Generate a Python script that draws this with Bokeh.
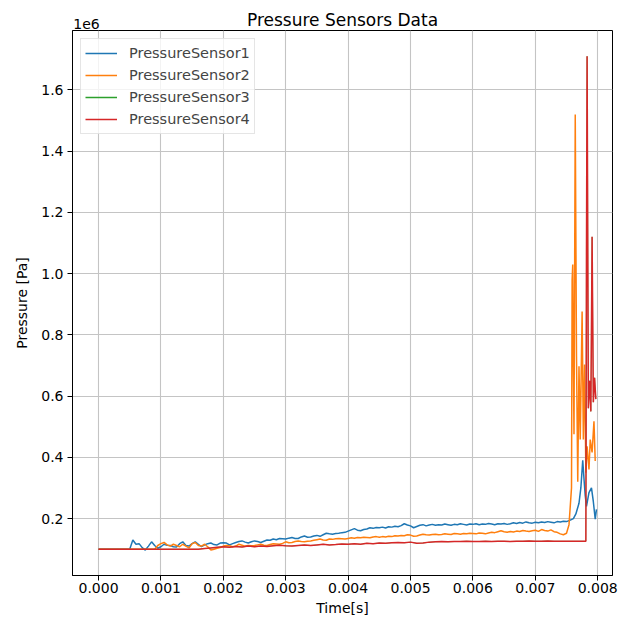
import numpy as np
from bokeh.plotting import figure
from bokeh.models import FixedTicker, Range1d, LinearAxis, Legend, LegendItem
from bokeh.embed import file_html
from bokeh.resources import INLINE

# ---------------- data (pressures in kPa) ----------------
series_names = ["PressureSensor1", "PressureSensor2", "PressureSensor3", "PressureSensor4"]
series_colors = ["#1f77b4", "#ff7f0e", "#2ca02c", "#d62728"]
chart_title = "Pressure Sensors Data"
offset_text = "1e6"

# Sensor 1: baseline, then 50 us samples from 0.5 ms to 7.5 ms, then spike region
s1_base_kpa = [
    100, 130, 116, 118, 105, 97, 110, 124, 112, 103,
    108, 116, 113, 112, 108, 107, 118, 124, 112, 110,
    118, 124, 116, 108, 114, 118, 120, 115, 114, 120,
    121, 120, 114, 118, 122, 125, 127, 123, 120, 124,
    127, 125, 122, 126, 130, 129, 133, 131, 135, 134,
    133, 136, 138, 135, 135, 140, 143, 139, 140, 143,
    145, 142, 147, 152, 150, 149, 151, 152, 154, 155,
    159, 163, 167, 162, 160, 164, 166, 170, 168, 171,
    170, 172, 169, 173, 172, 175, 173, 177, 183, 179,
    176, 170, 174, 178, 180, 176, 179, 181, 178, 180,
    179, 182, 180, 178, 181, 180, 183, 181, 179, 182,
    181, 183, 180, 182, 181, 184, 182, 180, 183, 182,
    184, 181, 183, 186, 184, 187, 185, 189, 186, 185,
    188, 186, 189, 187, 190, 188, 186, 190, 189, 191,
    190,
]
s1_spike_t = [0.00756, 0.00761, 0.00765, 0.0077, 0.00773, 0.00776, 0.00778,
              0.0078, 0.00782, 0.00786, 0.0079, 0.00793, 0.00796, 0.00798]
s1_spike_kpa = [195, 200, 215, 250, 300, 390, 330, 275, 240, 285, 300, 255, 198, 230]

# Sensor 2: 50 us samples from 1.0 ms to 7.5 ms, then spike region
s2_pre_t = [0.0, 0.0009, 0.00095]
s2_pre_kpa = [100, 100, 112]
s2_base_kpa = [
    118, 122, 114, 110, 116, 112, 108, 116, 110, 104,
    118, 122, 112, 110, 116, 108, 97, 100, 103, 105,
    110, 112, 111, 108, 110, 116, 113, 110, 112, 111,
    112, 114, 116, 113, 112, 115, 118, 117, 116, 119,
    124, 121, 122, 125, 127, 125, 124, 126, 127, 129,
    131, 133, 130, 129, 133, 132, 134, 135, 134, 133,
    135, 137, 136, 138, 137, 139, 138, 137, 140, 141,
    139, 141, 140, 142, 141, 144, 143, 145, 144, 147,
    146, 142, 143, 146, 149, 147, 146, 148, 149, 147,
    148, 150, 149, 148, 151, 150, 149, 151, 150, 152,
    151, 150, 153, 152, 150, 153, 155, 154, 157, 160,
    157, 155, 158, 156, 159, 158, 161, 159, 158, 160,
    162, 158, 164, 161, 159, 163, 157, 155, 150, 147,
    152,
]
s2_spike_t = [0.00754, 0.00758, 0.00759, 0.0076, 0.00761, 0.00762, 0.00764,
              0.00766, 0.00768, 0.0077, 0.00772, 0.00775, 0.00777, 0.00779,
              0.00781, 0.00783, 0.00786, 0.00788, 0.00791, 0.00794, 0.00796]
s2_spike_kpa = [180, 300, 980, 1030, 700, 475, 1520, 730, 320, 697, 458,
                876, 458, 703, 350, 436, 360, 458, 416, 518, 388]

# Sensor 4 (sensor 3 reads the same and is hidden beneath it): 0.1 ms samples
s4_base_kpa = [
    100, 100, 100, 100, 100, 100, 100, 100, 100, 100,
    100, 100, 100, 100, 100, 100, 100,
    102, 104, 106, 108, 106, 109, 107, 110, 108, 110,
    109, 111, 113, 111, 110, 112, 114, 112, 114, 116,
    114, 115, 117, 116, 118, 116, 119, 118, 120, 119,
    121, 122, 121, 123, 119, 120, 123, 124, 125, 124,
    125, 125, 126, 125, 125, 126, 125, 126, 126, 125,
    126, 126, 127, 126, 126, 127, 126, 126, 126, 126,
    126, 126,
]
s4_spike_t = [0.00781, 0.00782, 0.00783, 0.00785, 0.00787, 0.00789,
              0.00791, 0.00793, 0.00795, 0.00797]
s4_spike_kpa = [126, 1080, 1710, 560, 650, 550, 1120, 580, 660, 590]
s3_base_kpa = list(s4_base_kpa)
s3_spike_kpa = list(s4_spike_kpa)

x_ticks = [0.000, 0.001, 0.002, 0.003, 0.004, 0.005, 0.006, 0.007, 0.008]
x_tick_labels = ["0.000", "0.001", "0.002", "0.003", "0.004", "0.005", "0.006", "0.007", "0.008"]
y_ticks = [200000, 400000, 600000, 800000, 1000000, 1200000, 1400000, 1600000]
y_tick_labels = ["0.2", "0.4", "0.6", "0.8", "1.0", "1.2", "1.4", "1.6"]

# ---------------- assemble series ----------------
t1 = [0.0] + list(np.round(0.0005 + 0.00005 * np.arange(len(s1_base_kpa)), 6)) + s1_spike_t
p1 = [100] + s1_base_kpa + s1_spike_kpa
t2 = s2_pre_t + list(np.round(0.0010 + 0.00005 * np.arange(len(s2_base_kpa)), 6)) + s2_spike_t
p2 = s2_pre_kpa + s2_base_kpa + s2_spike_kpa
t4 = list(np.round(0.0001 * np.arange(len(s4_base_kpa)), 6)) + s4_spike_t
p3 = s3_base_kpa + s3_spike_kpa
p4 = s4_base_kpa + s4_spike_kpa

series = [(t1, p1), (t2, p2), (t4, p3), (t4, p4)]
# sensor 3 lies exactly under sensor 4; draw it thin so the red stays clean
draw_widths = [1.5, 1.5, 0.5, 1.5]

FONT = "DejaVu Sans"
X0, X1 = -0.000417, 0.008237

p = figure(width=618, height=618, output_backend="svg", toolbar_location=None,
           x_range=Range1d(X0, X1), y_range=Range1d(14000, 1794000),
           x_axis_location=None, y_axis_location=None,
           min_border_left=72, min_border_right=6, min_border_top=30, min_border_bottom=41)

legend_items = []
for (t, pk), name, color, w in zip(series, series_names, series_colors, draw_widths):
    y = np.array(pk, dtype=float) * 1000.0
    p.line(t, y, line_color=color, line_width=w)
    # legend key: a one-sample line (draws nothing in the plot) with the standard width
    key = p.line(t[:1], y[:1], line_color=color, line_width=1.5)
    legend_items.append(LegendItem(label=name, renderers=[key]))

p.background_fill_color = "white"
p.border_fill_color = "white"
p.outline_line_color = "black"
p.outline_line_width = 1


def style_axis(ax):
    ax.axis_line_color = "black"
    ax.major_tick_line_color = "black"
    ax.major_tick_out = 5
    ax.major_tick_in = 0
    ax.minor_tick_line_color = None
    ax.major_label_text_font = FONT
    ax.major_label_text_font_size = "14px"
    ax.major_label_text_color = "black"
    ax.axis_label_text_font = FONT
    ax.axis_label_text_font_size = "14px"
    ax.axis_label_text_font_style = "normal"
    ax.axis_label_text_color = "black"


xaxis = LinearAxis(ticker=FixedTicker(ticks=x_ticks), axis_label="Time[s]")
style_axis(xaxis)
xaxis.major_label_overrides = dict(zip(x_ticks, x_tick_labels))
xaxis.major_label_standoff = 2
xaxis.axis_label_standoff = 4
p.add_layout(xaxis, "below")

yaxis = LinearAxis(ticker=FixedTicker(ticks=y_ticks), axis_label="Pressure [Pa]")
style_axis(yaxis)
yaxis.major_label_overrides = dict(zip(y_ticks, y_tick_labels))
yaxis.major_label_standoff = 4
yaxis.axis_label_standoff = 8
p.add_layout(yaxis, "left")

# top strip: the "1e6" multiplier sits as a tick label, the chart title as the axis label
offset_pos = -0.000192
topaxis = LinearAxis(ticker=FixedTicker(ticks=[offset_pos]), axis_label=chart_title)
topaxis.major_label_overrides = {offset_pos: offset_text}
topaxis.axis_line_color = None
topaxis.major_tick_line_color = None
topaxis.minor_tick_line_color = None
topaxis.major_tick_out = 0
topaxis.major_tick_in = 0
topaxis.major_label_standoff = 2
topaxis.major_label_text_font = FONT
topaxis.major_label_text_font_size = "14px"
topaxis.major_label_text_color = "black"
topaxis.axis_label_text_font = FONT
topaxis.axis_label_text_font_size = "17px"
topaxis.axis_label_text_font_style = "normal"
topaxis.axis_label_text_color = "black"
topaxis.axis_label_standoff = -14
p.add_layout(topaxis, "above")

p.xgrid.ticker = FixedTicker(ticks=x_ticks)
p.ygrid.ticker = FixedTicker(ticks=y_ticks)
p.xgrid.grid_line_color = "#c4c4c4"
p.ygrid.grid_line_color = "#c4c4c4"
p.xgrid.grid_line_width = 1.1
p.ygrid.grid_line_width = 1.1

lg = Legend(items=legend_items, location="top_left")
lg.margin = 8
lg.padding = 4
lg.spacing = 2
lg.glyph_width = 32
lg.glyph_height = 20
lg.label_height = 20
lg.label_standoff = 12
lg.label_text_font = FONT
lg.label_text_font_size = "14.5px"
lg.border_line_color = "#cccccc"
lg.border_line_width = 1
lg.background_fill_alpha = 0.8
p.add_layout(lg)

open("out.html", "w").write(file_html(p, INLINE))
